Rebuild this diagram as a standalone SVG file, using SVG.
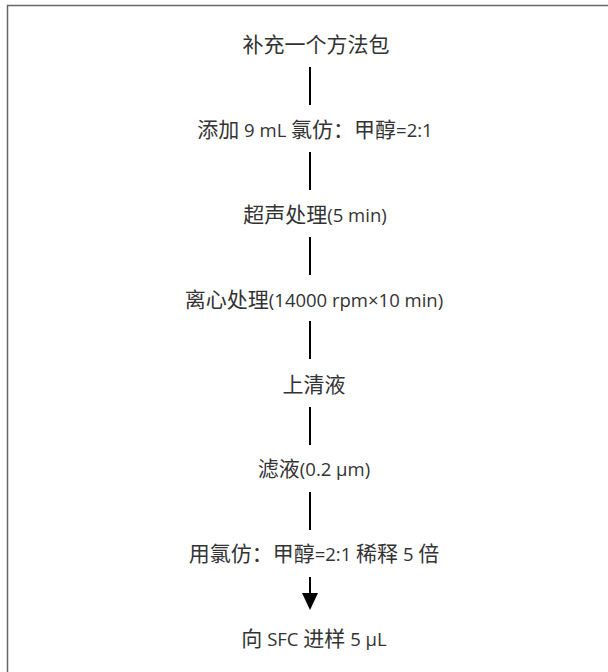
<svg xmlns="http://www.w3.org/2000/svg" width="608" height="672" viewBox="0 0 608 672">
<style>
.t{font-family:"Open Sans","Noto Sans CJK SC",sans-serif;font-size:21px;fill:#333;text-anchor:middle;dominant-baseline:central}
.l{font-size:18.5px}
.c{stroke:#000;stroke-width:2;fill:none}
</style>
<rect x="0" y="0" width="608" height="672" fill="#fff"/>
<path d="M7.5,700 V5.5 H620" fill="none" stroke="#666" stroke-width="1.5"/>
<g id="n1"><text class="t" x="316" y="44">补充一个方法包</text></g>
<g id="n2"><text class="t" x="315" y="129">添加<tspan class="l"> 9 mL </tspan>氯仿：甲醇<tspan class="l">=2:1</tspan></text></g>
<g id="n3"><text class="t" x="315" y="214">超声处理<tspan class="l">(5 min)</tspan></text></g>
<g id="n4"><text class="t" x="314" y="299">离心处理<tspan class="l">(14000 rpm×10 min)</tspan></text></g>
<g id="n5"><text class="t" x="314" y="384">上清液</text></g>
<g id="n6"><text class="t" x="314" y="468">滤液<tspan class="l">(0.2 μm)</tspan></text></g>
<g id="n7"><text class="t" x="314" y="553">用氯仿：甲醇<tspan class="l">=2:1 </tspan>稀释<tspan class="l"> 5 </tspan>倍</text></g>
<g id="n8"><text class="t" x="314" y="638">向<tspan class="l"> SFC </tspan>进样<tspan class="l"> 5 μL</tspan></text></g>
<g id="connectors">
<line class="c" x1="310" y1="67" x2="310" y2="105"/>
<line class="c" x1="310" y1="152" x2="310" y2="190"/>
<line class="c" x1="310" y1="237" x2="310" y2="275"/>
<line class="c" x1="310" y1="321" x2="310" y2="359"/>
<line class="c" x1="310" y1="407" x2="310" y2="445"/>
<line class="c" x1="310" y1="492" x2="310" y2="530"/>
<line class="c" x1="310" y1="577" x2="310" y2="595"/>
<polygon points="302,593 318,593 310,610" fill="#000"/>
</g>
</svg>
